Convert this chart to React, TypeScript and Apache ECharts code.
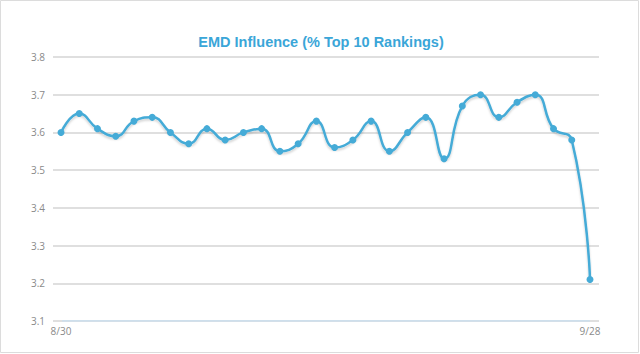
import React, { useEffect, useRef } from "react";
import * as echarts from "echarts";

const categories = [
  "8/30", "8/31", "9/1", "9/2", "9/3", "9/4", "9/5", "9/6", "9/7", "9/8",
  "9/9", "9/10", "9/11", "9/12", "9/13", "9/14", "9/15", "9/16", "9/17", "9/18",
  "9/19", "9/20", "9/21", "9/22", "9/23", "9/24", "9/25", "9/26", "9/27", "9/28",
];
const influence = [
  3.60, 3.65, 3.61, 3.59, 3.63, 3.64, 3.60, 3.57, 3.61, 3.58,
  3.60, 3.61, 3.55, 3.57, 3.63, 3.56, 3.58, 3.63, 3.55, 3.60,
  3.64, 3.53, 3.67, 3.70, 3.64, 3.68, 3.70, 3.61, 3.58, 3.21,
];
const yMin = 3.1;
const yMax = 3.8;
const yStep = 0.1;

export default function App() {
  const ref = useRef<HTMLDivElement>(null);
  useEffect(() => {
    if (!ref.current) return;
    const chart = echarts.init(ref.current, null, { renderer: "svg" });
    const lastIdx = categories.length - 1;
    chart.setOption({
      animation: false,
      backgroundColor: "#ffffff",
      title: {
        text: "EMD Influence (% Top 10 Rankings)",
        left: 316,
        textAlign: "center",
        top: 29,
        textStyle: {
          color: "#3aa6d8",
          fontSize: 14.5,
          fontWeight: "bold",
          fontFamily: "Liberation Sans, Arial, sans-serif",
        },
      },
      graphic: [
        {
          type: "rect",
          shape: { x: 0.5, y: 0.5, width: 638, height: 352 },
          style: { fill: "none", stroke: "#dcdcdc", lineWidth: 1 },
          silent: true,
        },
      ],
      grid: [
        { left: 53, right: 41, top: 57, bottom: 33 },
        { left: 61, right: 50, top: 57, bottom: 33 },
      ],
      xAxis: [
        {
          type: "category",
          gridIndex: 0,
          data: categories,
          show: false,
        },
        {
          type: "category",
          gridIndex: 1,
          data: categories,
          boundaryGap: false,
          axisLine: { show: false },
          axisTick: { show: false },
          axisLabel: {
            interval: (i: number) => i === 0 || i === lastIdx,
            color: "#8a8a8a",
            fontSize: 10,
            fontFamily: "Open Sans, sans-serif",
            margin: 5,
          },
        },
      ],
      yAxis: [
        {
          type: "value",
          gridIndex: 0,
          min: yMin,
          max: yMax,
          interval: yStep,
          axisLine: { show: false },
          axisTick: { show: false },
          axisLabel: {
            color: "#8a8a8a",
            fontSize: 10,
            fontFamily: "Open Sans, sans-serif",
            margin: 8,
            formatter: (v: number) => v.toFixed(1),
          },
          splitLine: {
            lineStyle: { color: "#d4d4d4", width: 1.5 },
          },
        },
        {
          type: "value",
          gridIndex: 1,
          min: yMin,
          max: yMax,
          interval: yStep,
          show: false,
          splitLine: { show: false },
        },
      ],
      series: [
        {
          type: "line",
          xAxisIndex: 0,
          yAxisIndex: 0,
          data: [[0, yMin], [lastIdx, yMin]],
          symbol: "none",
          silent: true,
          lineStyle: { color: "#c9dff0", width: 1.5 },
        },
        {
          type: "line",
          xAxisIndex: 1,
          yAxisIndex: 1,
          data: influence,
          smooth: 0.5,
          symbol: "circle",
          symbolSize: 7,
          itemStyle: { color: "#45abd7" },
          lineStyle: {
            color: "#45abd7",
            width: 2.5,
            shadowColor: "rgba(0,0,0,0.18)",
            shadowBlur: 2,
            shadowOffsetY: 2,
          },
        },
      ],
    });
    return () => chart.dispose();
  }, []);
  return (
    <div
      ref={ref}
      style={{ position: "absolute", left: 0, top: 0, width: 640, height: 354 }}
    />
  );
}
